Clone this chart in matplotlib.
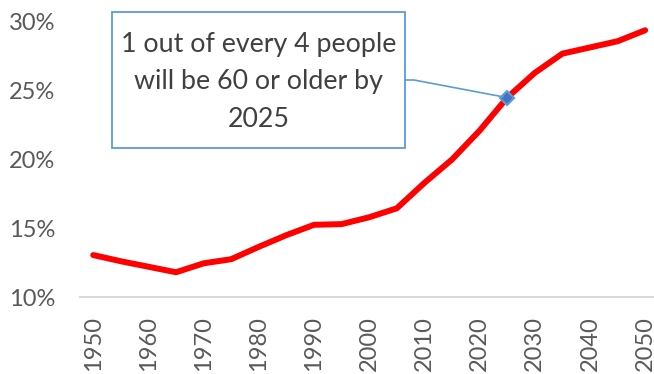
import numpy as np
import matplotlib.pyplot as plt
from matplotlib.patches import Rectangle

# share of population aged 60+ (%), every 5 years
years = [1950, 1955, 1960, 1965, 1970, 1975, 1980, 1985, 1990, 1995, 2000,
         2005, 2010, 2015, 2020, 2025, 2030, 2035, 2040, 2045, 2050]
share = [13.05, 12.6, 12.2, 11.8, 12.45, 12.75, 13.65, 14.5, 15.25, 15.3, 15.8,
         16.45, 18.3, 20.0, 22.1, 24.5, 26.3, 27.7, 28.15, 28.6, 29.4]
xticks = list(range(1950, 2051, 10))
yticks = [10, 15, 20, 25, 30]
note_year = 2025
note_text = '1 out of every 4 people\nwill be 60 or older by\n2025'

plt.rcParams['font.family'] = ['Lato', 'DejaVu Sans']
gray = '#595959'

fig = plt.figure(figsize=(6.54, 3.74), dpi=100)
ax = fig.add_axes([80/654, 1 - 297/374, 574/654, 275/374])

ax.plot(years, share, color='#FF0000', lw=4.3, solid_capstyle='round', solid_joinstyle='round')
i = years.index(note_year)
ax.plot(years[i], share[i], marker='D', ms=7, mfc='#4472C4', mec='#5B9BD5', mew=1.5)

ax.set_xlim(1947.6, 2051.6)
ax.set_ylim(10, 30)
ax.set_xticks(xticks)
ax.set_xticklabels([str(t) for t in xticks], rotation=90)
ax.set_yticks(yticks)
ax.set_yticklabels([f'{t}%' for t in yticks])
ax.tick_params(axis='both', length=0, labelsize=17, colors=gray)
ax.tick_params(axis='x', pad=14)
ax.tick_params(axis='y', pad=18)
for s in ['top', 'right', 'left']:
    ax.spines[s].set_visible(False)
ax.spines['bottom'].set_color('#D9D9D9')
ax.spines['bottom'].set_linewidth(1.5)

# callout box
box = Rectangle((112/654, 1 - 148/374), 293/654, 136/374, transform=fig.transFigure,
                facecolor='white', edgecolor='#5B9BD5', lw=1.3, zorder=5)
fig.patches.append(box)
fig.text(258.5/654, 1 - 82/374, note_text, ha='center', va='center', fontsize=19.3,
         color='#404040', linespacing=1.62, zorder=6)
ax.annotate('', xy=(years[i], share[i]), xycoords='data',
            xytext=(405/654, 1 - 80/374), textcoords='figure fraction',
            arrowprops=dict(arrowstyle='-', color='#5B9BD5', lw=1.2, shrinkA=0, shrinkB=3,
                            connectionstyle='arc,angleA=0,armA=9,angleB=0,armB=0,rad=0'))

plt.savefig('out.png', dpi=100)
